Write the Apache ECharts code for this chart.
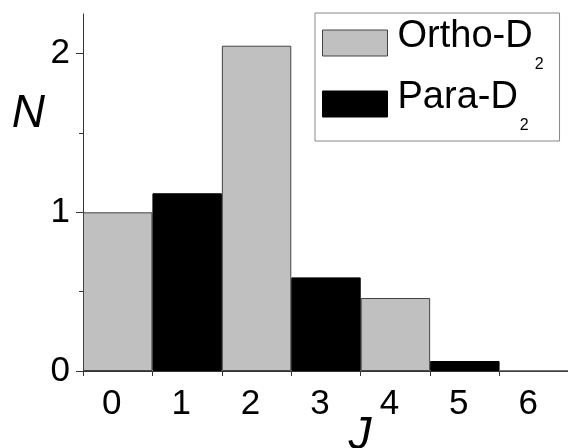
<!DOCTYPE html>
<html>
<head>
<meta charset="utf-8">
<script src="https://cdn.jsdelivr.net/npm/echarts@6/dist/echarts.min.js"></script>
<style>
  html, body { margin: 0; padding: 0; background: #fff; }
  #chart { width: 568px; height: 448px; }
</style>
</head>
<body>
<div id="chart"></div>
<script>
// Rotational level populations of D2 by quantum number J
const jLevels = ['0', '1', '2', '3', '4', '5', '6'];
// even J: ortho-D2, odd J: para-D2 ('-' = no bar)
const orthoValues = [1.0, '-', 2.05, '-', 0.46, '-', 0];
const paraValues = ['-', 1.12, '-', 0.59, '-', 0.063, '-'];
const yMajorTicks = [0, 1, 2];
const yMinorTicks = [0.5, 1.5];

const FONT = '"Liberation Sans", Arial, sans-serif';
const AXIS_COLOR = '#333';

const chart = echarts.init(document.getElementById('chart'));

const valueAxisBase = {
  type: 'value',
  min: 0,
  max: 2.25,
  interval: 1,
  splitLine: { show: false }
};

chart.setOption({
  animation: false,
  backgroundColor: '#fff',
  grid: { left: 83, top: 14, width: 486, height: 357, containLabel: false, outerBoundsMode: 'none' },
  legend: {
    orient: 'vertical',
    left: 315,
    top: 13,
    padding: [5, 16, 7, 7],
    itemGap: 6,
    itemWidth: 65,
    itemHeight: 26,
    icon: 'rect',
    selectedMode: false,
    borderColor: '#888',
    borderWidth: 1,
    data: [
      { name: 'Ortho-D2', itemStyle: { color: '#c0c0c0', borderColor: '#444', borderWidth: 1 } },
      { name: 'Para-D2', itemStyle: { color: '#000', borderColor: '#000', borderWidth: 1 } }
    ],
    formatter: function (name) {
      return '{a|' + name.slice(0, -1) + '}{s|' + name.slice(-1) + '}';
    },
    textStyle: {
      rich: {
        a: { fontFamily: FONT, fontSize: 38, color: '#000', lineHeight: 50, verticalAlign: 'top', padding: [0, 0, 0, 5] },
        s: { fontFamily: FONT, fontSize: 16, color: '#000', lineHeight: 16, verticalAlign: 'top', padding: [39, 0, 0, 2] }
      }
    }
  },
  xAxis: {
    type: 'category',
    data: jLevels,
    boundaryGap: true,
    name: 'J',
    nameLocation: 'middle',
    nameGap: 42,
    nameMoveOverlap: false,
    nameTextStyle: { fontFamily: FONT, fontSize: 46, fontStyle: 'italic', color: '#000', padding: [0, 0, 0, 68] },
    axisLine: { lineStyle: { color: AXIS_COLOR, width: 1 } },
    axisTick: { show: true, inside: false, length: 5, lineStyle: { color: AXIS_COLOR } },
    axisLabel: { fontFamily: FONT, fontSize: 35, color: '#000', margin: 16, padding: [0, 12, 0, 0] }
  },
  yAxis: [
    Object.assign({}, valueAxisBase, {
      name: 'N',
      nameLocation: 'middle',
      nameRotate: 0,
      nameGap: 38,
      nameMoveOverlap: false,
      nameTextStyle: { fontFamily: FONT, fontSize: 46, fontStyle: 'italic', color: '#000', verticalAlign: 'bottom', lineHeight: 156 },
      axisLine: { show: true, lineStyle: { color: AXIS_COLOR, width: 1 } },
      axisTick: { show: true, length: 7, customValues: yMajorTicks, lineStyle: { color: AXIS_COLOR } },
      axisLabel: { fontFamily: FONT, fontSize: 35, color: '#000', margin: 13, customValues: yMajorTicks }
    }),
    Object.assign({}, valueAxisBase, {
      position: 'left',
      axisLine: { show: false },
      axisTick: { show: true, length: 4, customValues: yMinorTicks, lineStyle: { color: AXIS_COLOR } },
      axisLabel: { show: false }
    })
  ],
  series: [
    {
      name: 'Ortho-D2',
      type: 'bar',
      data: orthoValues,
      barWidth: '100%',
      barGap: '-100%',
      itemStyle: { color: '#c0c0c0', borderColor: '#444', borderWidth: 1 }
    },
    {
      name: 'Para-D2',
      type: 'bar',
      data: paraValues,
      barWidth: '100%',
      barGap: '-100%',
      itemStyle: { color: '#000', borderColor: '#000', borderWidth: 1 }
    }
  ]
});
</script>
</body>
</html>
